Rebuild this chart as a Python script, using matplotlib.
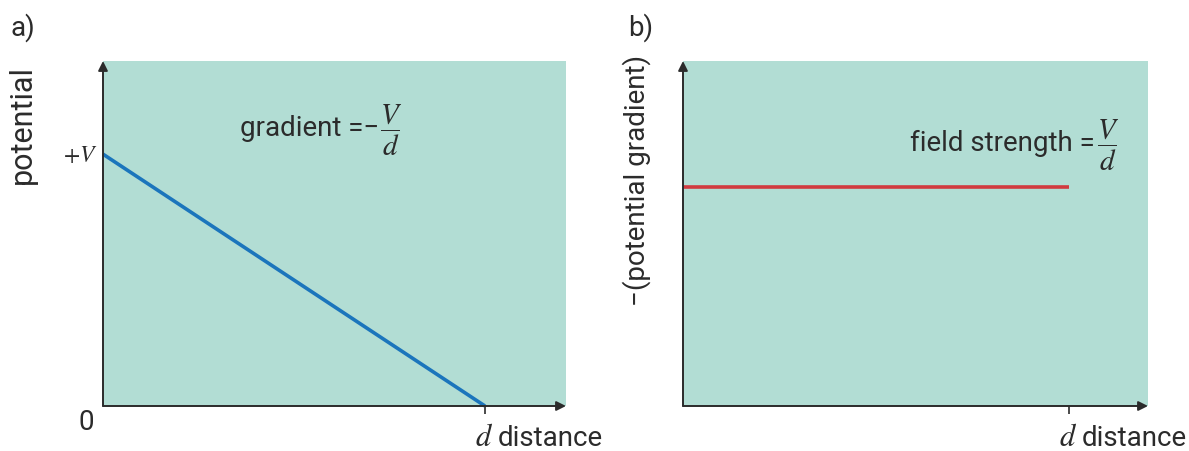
import matplotlib.pyplot as plt
from matplotlib.transforms import blended_transform_factory

plt.rcParams['mathtext.fontset'] = 'stix'
plt.rcParams['font.family'] = ['Roboto', 'DejaVu Sans']

# data, in units of d and V
distance = [0.0, 1.0]
potential = [1.0, 0.0]
field_strength = [1.0, 1.0]

green = '#b2ddd4'
ink = '#2b2b2b'
fs = 20
fig = plt.figure(figsize=(11.89, 4.52), dpi=100)
ax1 = fig.add_axes([103/1189, 45/452, 463/1189, 345/452])
ax2 = fig.add_axes([683/1189, 45/452, 465/1189, 345/452])

def px(x, y):
	# figure pixel position (from top-left) to figure fraction
	return x/1189, 1 - y/452

def setup(ax, xmax, ymax):
	ax.set_facecolor(green)
	ax.set_xlim(0, xmax)
	ax.set_ylim(0, ymax)
	for s in ['top', 'right', 'left', 'bottom']:
		ax.spines[s].set_visible(False)
	ax.set_yticks([])
	ax.set_xticks([1.0])
	ax.set_xticklabels([''])
	ax.tick_params(axis='x', length=6, width=1.2, color=ink, direction='out')
	kw = dict(arrowstyle='-|>', color=ink, lw=1.4, mutation_scale=14, shrinkA=0, shrinkB=0)
	ax.annotate('', xy=(0, 1.0), xytext=(0, 0), xycoords='axes fraction', arrowprops=kw)
	ax.annotate('', xy=(1.0, 0), xytext=(0, 0), xycoords='axes fraction', arrowprops=kw)
	tr = blended_transform_factory(ax.transData, ax.transAxes)
	ax.annotate(r'$d$', xy=(1.0, 0), xycoords=tr, xytext=(-1, -28), textcoords='offset points',
		ha='center', va='baseline', fontsize=fs+2, color=ink)
	ax.annotate('distance', xy=(1.0, 0), xycoords=tr, xytext=(9, -28), textcoords='offset points',
		ha='left', va='baseline', fontsize=fs, color=ink)

# a) potential
setup(ax1, 1.0/0.825, 1.0/0.73)
ax1.plot(distance, potential, color='#1b75bc', lw=2.6, solid_capstyle='butt', clip_on=False)
ax1.text(-0.012, 1.0, r'$+V$', transform=blended_transform_factory(ax1.transAxes, ax1.transData),
	ha='right', va='center', fontsize=fs-3, color=ink)
ax1.text(-0.035, -0.045, '0', transform=ax1.transAxes, ha='center', va='center', fontsize=fs, color=ink)
fig.text(*px(379, 128), 'gradient =\u2212', ha='right', va='center', fontsize=fs, color=ink)
fig.text(*px(391, 130), r'$\dfrac{V}{d}$', ha='center', va='center', fontsize=fs+1, color=ink)
fig.text(*px(22, 124), 'potential', rotation=90, ha='center', va='center', fontsize=fs+2, color=ink)
fig.text(*px(10, 28), 'a)', ha='left', va='center', fontsize=fs, color=ink)

# b) field strength
setup(ax2, 1.0/0.83, 1.0/0.635)
ax2.plot(distance, field_strength, color='#d13a3f', lw=2.6, solid_capstyle='butt')
fig.text(*px(1095, 143), 'field strength =', ha='right', va='center', fontsize=fs, color=ink)
fig.text(*px(1108, 145), r'$\dfrac{V}{d}$', ha='center', va='center', fontsize=fs+1, color=ink)
fig.text(*px(637, 180), '\u2212(potential gradient)', rotation=90, ha='center', va='center',
	fontsize=fs, color=ink)
fig.text(*px(628, 28), 'b)', ha='left', va='center', fontsize=fs, color=ink)

fig.savefig('out.png', dpi=100, facecolor='white')
